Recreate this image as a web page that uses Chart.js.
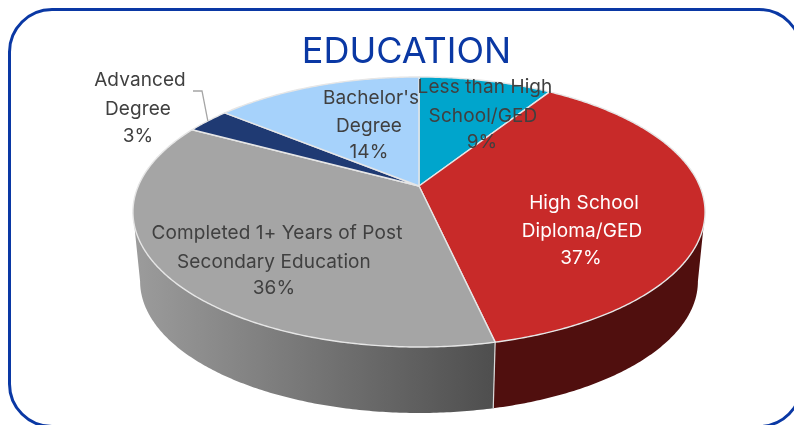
<!DOCTYPE html>
<html>
<head>
<meta charset="utf-8">
<style>
  html, body { margin: 0; padding: 0; background: #fff; overflow: hidden; width: 794px; height: 425px; }
  #card { position: absolute; left: 8px; top: 8px; width: 795px; height: 420px; box-sizing: border-box;
          border: 3px solid #0a38a4; border-radius: 44px; }
  #c { position: absolute; left: 0; top: 0; }
</style>
</head>
<body>
<div id="card"></div>
<canvas id="c" width="794" height="425"></canvas>
<script src="https://cdn.jsdelivr.net/npm/chart.js@4"></script>
<script>
const chartTitle = 'EDUCATION';
const categories = ['Less than High School/GED', 'High School Diploma/GED', 'Completed 1+ Years of Post Secondary Education', 'Advanced Degree', "Bachelor's Degree"];
const shares = [9, 37, 36, 3, 14];
const labelLines = [
  ['Less than High', 'School/GED', '9%'],
  ['High School', 'Diploma/GED', '37%'],
  ['Completed 1+ Years of Post', 'Secondary Education', '36%'],
  ['Advanced', 'Degree', '3%'],
  ["Bachelor's", 'Degree', '14%']
];
const topColors = ['#00a5cc', '#c82a29', '#a5a5a5', '#1f3a73', '#a6d2fb'];

// where each label sits: [centre x, baseline y] per line, hand placed like in the source
const labelSpots = [
  [[485, 93], [483, 122], [482, 148]],
  [[584, 209], [582, 237], [581, 264]],
  [[277, 239], [274, 268], [274, 294]],
  [[140, 86], [138, 115], [138, 142]],
  [[371, 104], [369, 132], [369, 158]]
];
const labelColors = ['#404040', '#ffffff', '#404040', '#404040', '#404040'];

// tilted disc: circle -> perspective ellipse
const apexY = 186, persp = 0.1926, radX = 280.7, radY = 130;
const wallDrop = 70, wallScale = 0.975;
const tangent = Math.asin(persp);   // where the rim is widest

function project(cx, angle, scale, drop) {
  const d = 1 - persp * Math.sin(angle);
  return {
    x: cx + scale * radX * Math.cos(angle) / d,
    y: apexY + drop + scale * radY * Math.sin(angle) / d
  };
}

function rimPath(ctx, cx, from, to, scale, drop) {
  const steps = Math.max(2, Math.ceil(Math.abs(to - from) / 0.01));
  for (let i = 0; i <= steps; i++) {
    const p = project(cx, from + (to - from) * i / steps, scale, drop);
    ctx.lineTo(p.x, p.y);
  }
}

// top face of every slice goes through the normal arc element
Chart.ArcElement.prototype.draw = function (ctx) {
  const o = this.options;
  ctx.save();
  ctx.beginPath();
  ctx.moveTo(this.x, apexY);
  rimPath(ctx, this.x, this.startAngle, this.endAngle, 1, 0);
  ctx.closePath();
  ctx.fillStyle = o.backgroundColor;
  ctx.fill();
  ctx.strokeStyle = o.borderColor;
  ctx.lineWidth = o.borderWidth;
  ctx.lineJoin = 'round';
  ctx.stroke();
  ctx.restore();
};

const wallPlugin = {
  id: 'wall',
  beforeDatasetsDraw(chart) {
    const ctx = chart.ctx;
    const frontStart = tangent, frontEnd = Math.PI - tangent;
    chart.getDatasetMeta(0).data.forEach((arc, i) => {
      const from = Math.max(arc.startAngle, frontStart);
      const to = Math.min(arc.endAngle, frontEnd);
      if (to <= from) return;
      const a = project(arc.x, to, 1, 0), b = project(arc.x, from, 1, 0);
      let fill;
      if (i === 2) {
        fill = ctx.createLinearGradient(a.x, 0, b.x, 0);
        fill.addColorStop(0, '#9c9c9c');
        fill.addColorStop(1, '#4e4e4e');
      } else {
        fill = '#500f0e';
      }
      ctx.beginPath();
      ctx.moveTo(b.x, b.y);
      rimPath(ctx, arc.x, from, to, 1, 0);
      rimPath(ctx, arc.x, to, from, wallScale, wallDrop);
      ctx.closePath();
      ctx.fillStyle = fill;
      ctx.fill();
      // seam between the two visible walls
      if (arc.startAngle > frontStart && arc.startAngle < frontEnd) {
        const s0 = project(arc.x, arc.startAngle, 1, 0);
        const s1 = project(arc.x, arc.startAngle, wallScale, wallDrop);
        ctx.beginPath();
        ctx.moveTo(s0.x, s0.y);
        ctx.lineTo(s1.x, s1.y);
        ctx.strokeStyle = '#d9d9d9';
        ctx.lineWidth = 1.2;
        ctx.stroke();
      }
    });
  }
};

const textPlugin = {
  id: 'texts',
  afterDatasetsDraw(chart) {
    const ctx = chart.ctx;
    ctx.save();
    ctx.textAlign = 'center';
    ctx.textBaseline = 'alphabetic';

    ctx.fillStyle = '#0a38a4';
    ctx.font = '36px Inter';
    ctx.fillText(chartTitle, 406.5, 63);

    // leader for the small slice
    const arc = chart.getDatasetMeta(0).data[3];
    const end = project(arc.x, (arc.startAngle + arc.endAngle) / 2, 1, 0);
    ctx.beginPath();
    ctx.moveTo(193, 91);
    ctx.lineTo(202, 91);
    ctx.lineTo(end.x, end.y);
    ctx.strokeStyle = '#a5a5a5';
    ctx.lineWidth = 1.3;
    ctx.stroke();

    ctx.font = '19px Inter';
    ctx.letterSpacing = '0.1px';
    labelLines.forEach((lines, i) => {
      ctx.fillStyle = labelColors[i];
      lines.forEach((line, j) => {
        ctx.fillText(line, labelSpots[i][j][0], labelSpots[i][j][1]);
      });
    });
    ctx.restore();
  }
};

new Chart(document.getElementById('c'), {
  type: 'pie',
  data: {
    labels: categories,
    datasets: [{
      data: shares,
      backgroundColor: topColors,
      borderColor: '#e6e6e6',
      borderWidth: 1.4
    }]
  },
  options: {
    responsive: false,
    animation: false,
    layout: { padding: { left: 44 } },
    plugins: { legend: { display: false }, tooltip: { enabled: false } }
  },
  plugins: [wallPlugin, textPlugin]
});
</script>
</body>
</html>
